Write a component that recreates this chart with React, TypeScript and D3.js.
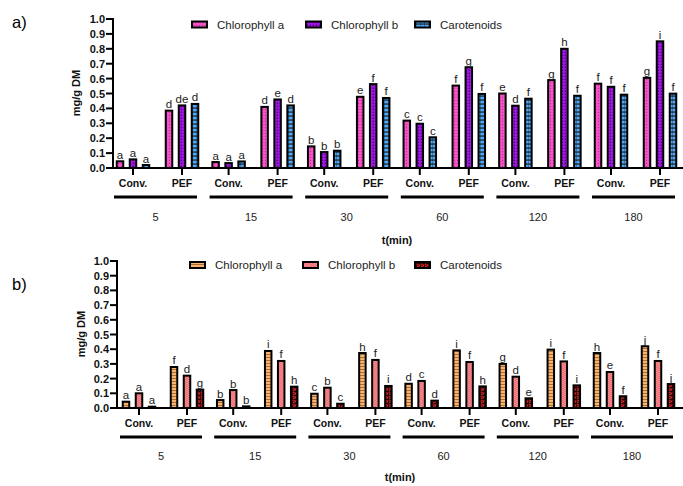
import React from 'react';
import * as d3 from 'd3';

const times = ['5', '15', '30', '60', '120', '180'];
const treatments = ['Conv.', 'PEF'];
const seriesNames = ['Chlorophyll a', 'Chlorophyll b', 'Carotenoids'];
const yTicks = [0, 0.1, 0.2, 0.3, 0.4, 0.5, 0.6, 0.7, 0.8, 0.9, 1.0];

// values ordered: 5 Conv, 5 PEF, 15 Conv, 15 PEF, ...
const aChlA = [0.045, 0.385, 0.04, 0.41, 0.145, 0.478, 0.318, 0.553, 0.5, 0.59, 0.566, 0.605];
const aChlB = [0.058, 0.42, 0.033, 0.46, 0.107, 0.563, 0.297, 0.676, 0.418, 0.8, 0.545, 0.85];
const aCarot = [0.02, 0.43, 0.044, 0.42, 0.116, 0.47, 0.206, 0.497, 0.465, 0.485, 0.492, 0.499];
const aChlALetters = ['a', 'd', 'a', 'd', 'b', 'e', 'c', 'f', 'e', 'g', 'f', 'g'];
const aChlBLetters = ['a', 'de', 'a', 'e', 'b', 'f', 'c', 'g', 'd', 'h', 'f', 'i'];
const aCarotLetters = ['a', 'd', 'a', 'd', 'b', 'f', 'c', 'f', 'f', 'f', 'f', 'f'];

const bChlA = [0.043, 0.279, 0.054, 0.388, 0.097, 0.374, 0.165, 0.392, 0.3, 0.397, 0.374, 0.42];
const bChlB = [0.1, 0.22, 0.122, 0.32, 0.138, 0.327, 0.184, 0.313, 0.213, 0.317, 0.245, 0.32];
const bCarot = [0.009, 0.125, 0.011, 0.145, 0.029, 0.15, 0.05, 0.147, 0.066, 0.154, 0.08, 0.163];
const bChlALetters = ['a', 'f', 'b', 'i', 'c', 'h', 'd', 'i', 'g', 'i', 'h', 'j'];
const bChlBLetters = ['a', 'd', 'b', 'f', 'b', 'f', 'c', 'f', 'd', 'f', 'e', 'f'];
const bCarotLetters = ['a', 'g', 'b', 'h', 'c', 'i', 'd', 'h', 'e', 'i', 'f', 'j'];

const FONT = '"Liberation Sans", Arial, sans-serif';

type PanelCfg = {
  tag: string;
  tagY: number;
  axisX: number;
  yTop: number;
  yBase: number;
  groupRange: [number, number];
  treatPos: [number, number];
  groupLine: [number, number];
  catY: number;
  lineY: number;
  groupLabelY: number;
  titleX: number;
  titleY: number;
  yLabelX: number;
  yLabelY: number;
  legendY: number;
  legendX: number[];
  series: number[][];
  letters: string[][];
  fills: string[];
};

function Panel({ cfg }: { cfg: PanelCfg }) {
  const y = d3.scaleLinear().domain([0, 1]).range([cfg.yBase, cfg.yTop]);
  const xg = d3.scaleBand().domain(times).range(cfg.groupRange).padding(0);
  const xt = d3.scalePoint().domain(treatments).range(cfg.treatPos);
  const xs = d3.scalePoint().domain(seriesNames).range([-13, 13]);
  const barW = 6.5;
  const fmt = d3.format('.1f');
  return (
    <g>
      <text x={12} y={cfg.tagY} fontFamily={FONT} fontSize={16.5}>{cfg.tag}</text>
      {seriesNames.map((s, i) => (
        <g key={s}>
          <rect x={cfg.legendX[i]} y={cfg.legendY - 3} width={15} height={6} fill={cfg.fills[i]} stroke="#000" strokeWidth={2} />
          <text x={cfg.legendX[i] + 25} y={cfg.legendY + 4} fontFamily={FONT} fontSize={11.5} fill="#222">{s}</text>
        </g>
      ))}
      {times.map((t, ti) =>
        treatments.map((tr, ri) =>
          seriesNames.map((s, si) => {
            const idx = ti * 2 + ri;
            const v = cfg.series[si][idx];
            const cx = (xg(t) as number) + (xt(tr) as number) + (xs(s) as number);
            return (
              <g key={`${t}-${tr}-${s}`}>
                <rect x={cx - barW / 2} y={y(v)} width={barW} height={cfg.yBase - y(v)} fill={cfg.fills[si]} stroke="#000" strokeWidth={2} />
                <text x={cx} y={y(v) - 2.5} textAnchor="middle" fontFamily={FONT} fontSize={11.5} fill="#222">{cfg.letters[si][idx]}</text>
              </g>
            );
          })
        )
      )}
      <line x1={cfg.axisX} x2={cfg.axisX} y1={cfg.yTop - 1} y2={cfg.yBase} stroke="#000" strokeWidth={2} />
      {yTicks.map((v) => (
        <g key={v}>
          <line x1={cfg.axisX - 7} x2={cfg.axisX} y1={y(v)} y2={y(v)} stroke="#000" strokeWidth={2} />
          <text x={cfg.axisX - 8} y={y(v) + 4} textAnchor="end" fontFamily={FONT} fontSize={11} fontWeight="bold" fill="#111">{fmt(v)}</text>
        </g>
      ))}
      <text transform={`translate(${cfg.yLabelX},${cfg.yLabelY}) rotate(-90)`} textAnchor="middle" fontFamily={FONT} fontSize={11} fontWeight="bold" fill="#111">mg/g DM</text>
      <line x1={cfg.axisX - 1} x2={683} y1={cfg.yBase} y2={cfg.yBase} stroke="#000" strokeWidth={2} />
      {times.map((t) => {
        const gx = xg(t) as number;
        return (
          <g key={t}>
            {treatments.map((tr) => (
              <g key={tr}>
                <line x1={gx + (xt(tr) as number)} x2={gx + (xt(tr) as number)} y1={cfg.yBase} y2={cfg.yBase + 7} stroke="#000" strokeWidth={2} />
                <text x={gx + (xt(tr) as number)} y={cfg.catY} textAnchor="middle" fontFamily={FONT} fontSize={10.5} fontWeight="bold" fill="#111">{tr}</text>
              </g>
            ))}
            <line x1={gx + cfg.groupLine[0]} x2={gx + cfg.groupLine[1]} y1={cfg.lineY} y2={cfg.lineY} stroke="#000" strokeWidth={3} />
            <text x={gx + (cfg.groupLine[0] + cfg.groupLine[1]) / 2} y={cfg.groupLabelY} textAnchor="middle" fontFamily={FONT} fontSize={11} fill="#222">{t}</text>
          </g>
        );
      })}
      <text x={cfg.titleX} y={cfg.titleY} textAnchor="middle" fontFamily={FONT} fontSize={11} fontWeight="bold" fill="#111">t(min)</text>
    </g>
  );
}

export default function App() {
  const cfgA: PanelCfg = {
    tag: 'a)', tagY: 28, axisX: 113, yTop: 19, yBase: 168,
    groupRange: [113, 686.6], treatPos: [20, 69], groupLine: [1, 84],
    catY: 187, lineY: 197, groupLabelY: 221, titleX: 397, titleY: 244,
    yLabelX: 80, yLabelY: 93, legendY: 24.5, legendX: [192, 306, 415],
    series: [aChlA, aChlB, aCarot], letters: [aChlALetters, aChlBLetters, aCarotLetters],
    fills: ['url(#pA1)', 'url(#pA2)', 'url(#pA3)'],
  };
  const cfgB: PanelCfg = {
    tag: 'b)', tagY: 290, axisX: 117, yTop: 261, yBase: 408,
    groupRange: [117, 682.2], treatPos: [22, 70], groupLine: [3, 85],
    catY: 427, lineY: 437, groupLabelY: 460, titleX: 400, titleY: 481,
    yLabelX: 85, yLabelY: 334, legendY: 265, legendX: [190, 303, 415],
    series: [bChlA, bChlB, bCarot], letters: [bChlALetters, bChlBLetters, bCarotLetters],
    fills: ['url(#pB1)', 'url(#pB2)', 'url(#pB3)'],
  };
  return (
    <svg width={683} height={486} style={{ position: 'absolute', left: 0, top: 0, background: '#fff' }}>
      <defs>
        <pattern id="pA1" width={3} height={3} patternUnits="userSpaceOnUse">
          <rect width={3} height={3} fill="#f452c6" />
          <rect x={1} y={1} width={1} height={1} fill="#b82c92" />
        </pattern>
        <pattern id="pA2" width={3} height={3} patternUnits="userSpaceOnUse">
          <rect width={3} height={3} fill="#a418e4" />
          <rect x={0.6} y={0.6} width={1.5} height={1.5} fill="#52008c" />
        </pattern>
        <pattern id="pA3" width={4} height={4} patternUnits="userSpaceOnUse">
          <rect width={4} height={4} fill="#111" />
          <rect x={0.3} y={0.6} width={3.7} height={2.9} fill="#4ea8f6" />
        </pattern>
        <pattern id="pB1" width={4} height={3} patternUnits="userSpaceOnUse">
          <rect width={4} height={3} fill="#f6b46e" />
          <rect y={0} width={4} height={0.8} fill="#9a5a22" />
        </pattern>
        <pattern id="pB2" width={4} height={4} patternUnits="userSpaceOnUse">
          <rect width={4} height={4} fill="#ec6468" />
          <path d="M0,1 Q1,0 2,1 T4,1 M0,3 Q1,2 2,3 T4,3" stroke="#ffb8b8" strokeWidth={0.6} fill="none" />
        </pattern>
        <pattern id="pB3" width={4} height={4} patternUnits="userSpaceOnUse">
          <rect width={4} height={4} fill="#200404" />
          <path d="M0.5,0.8 H3.5 V2.2 H1.5 V3.4" stroke="#e62626" strokeWidth={1} fill="none" />
        </pattern>
      </defs>
      <Panel cfg={cfgA} />
      <Panel cfg={cfgB} />
    </svg>
  );
}
